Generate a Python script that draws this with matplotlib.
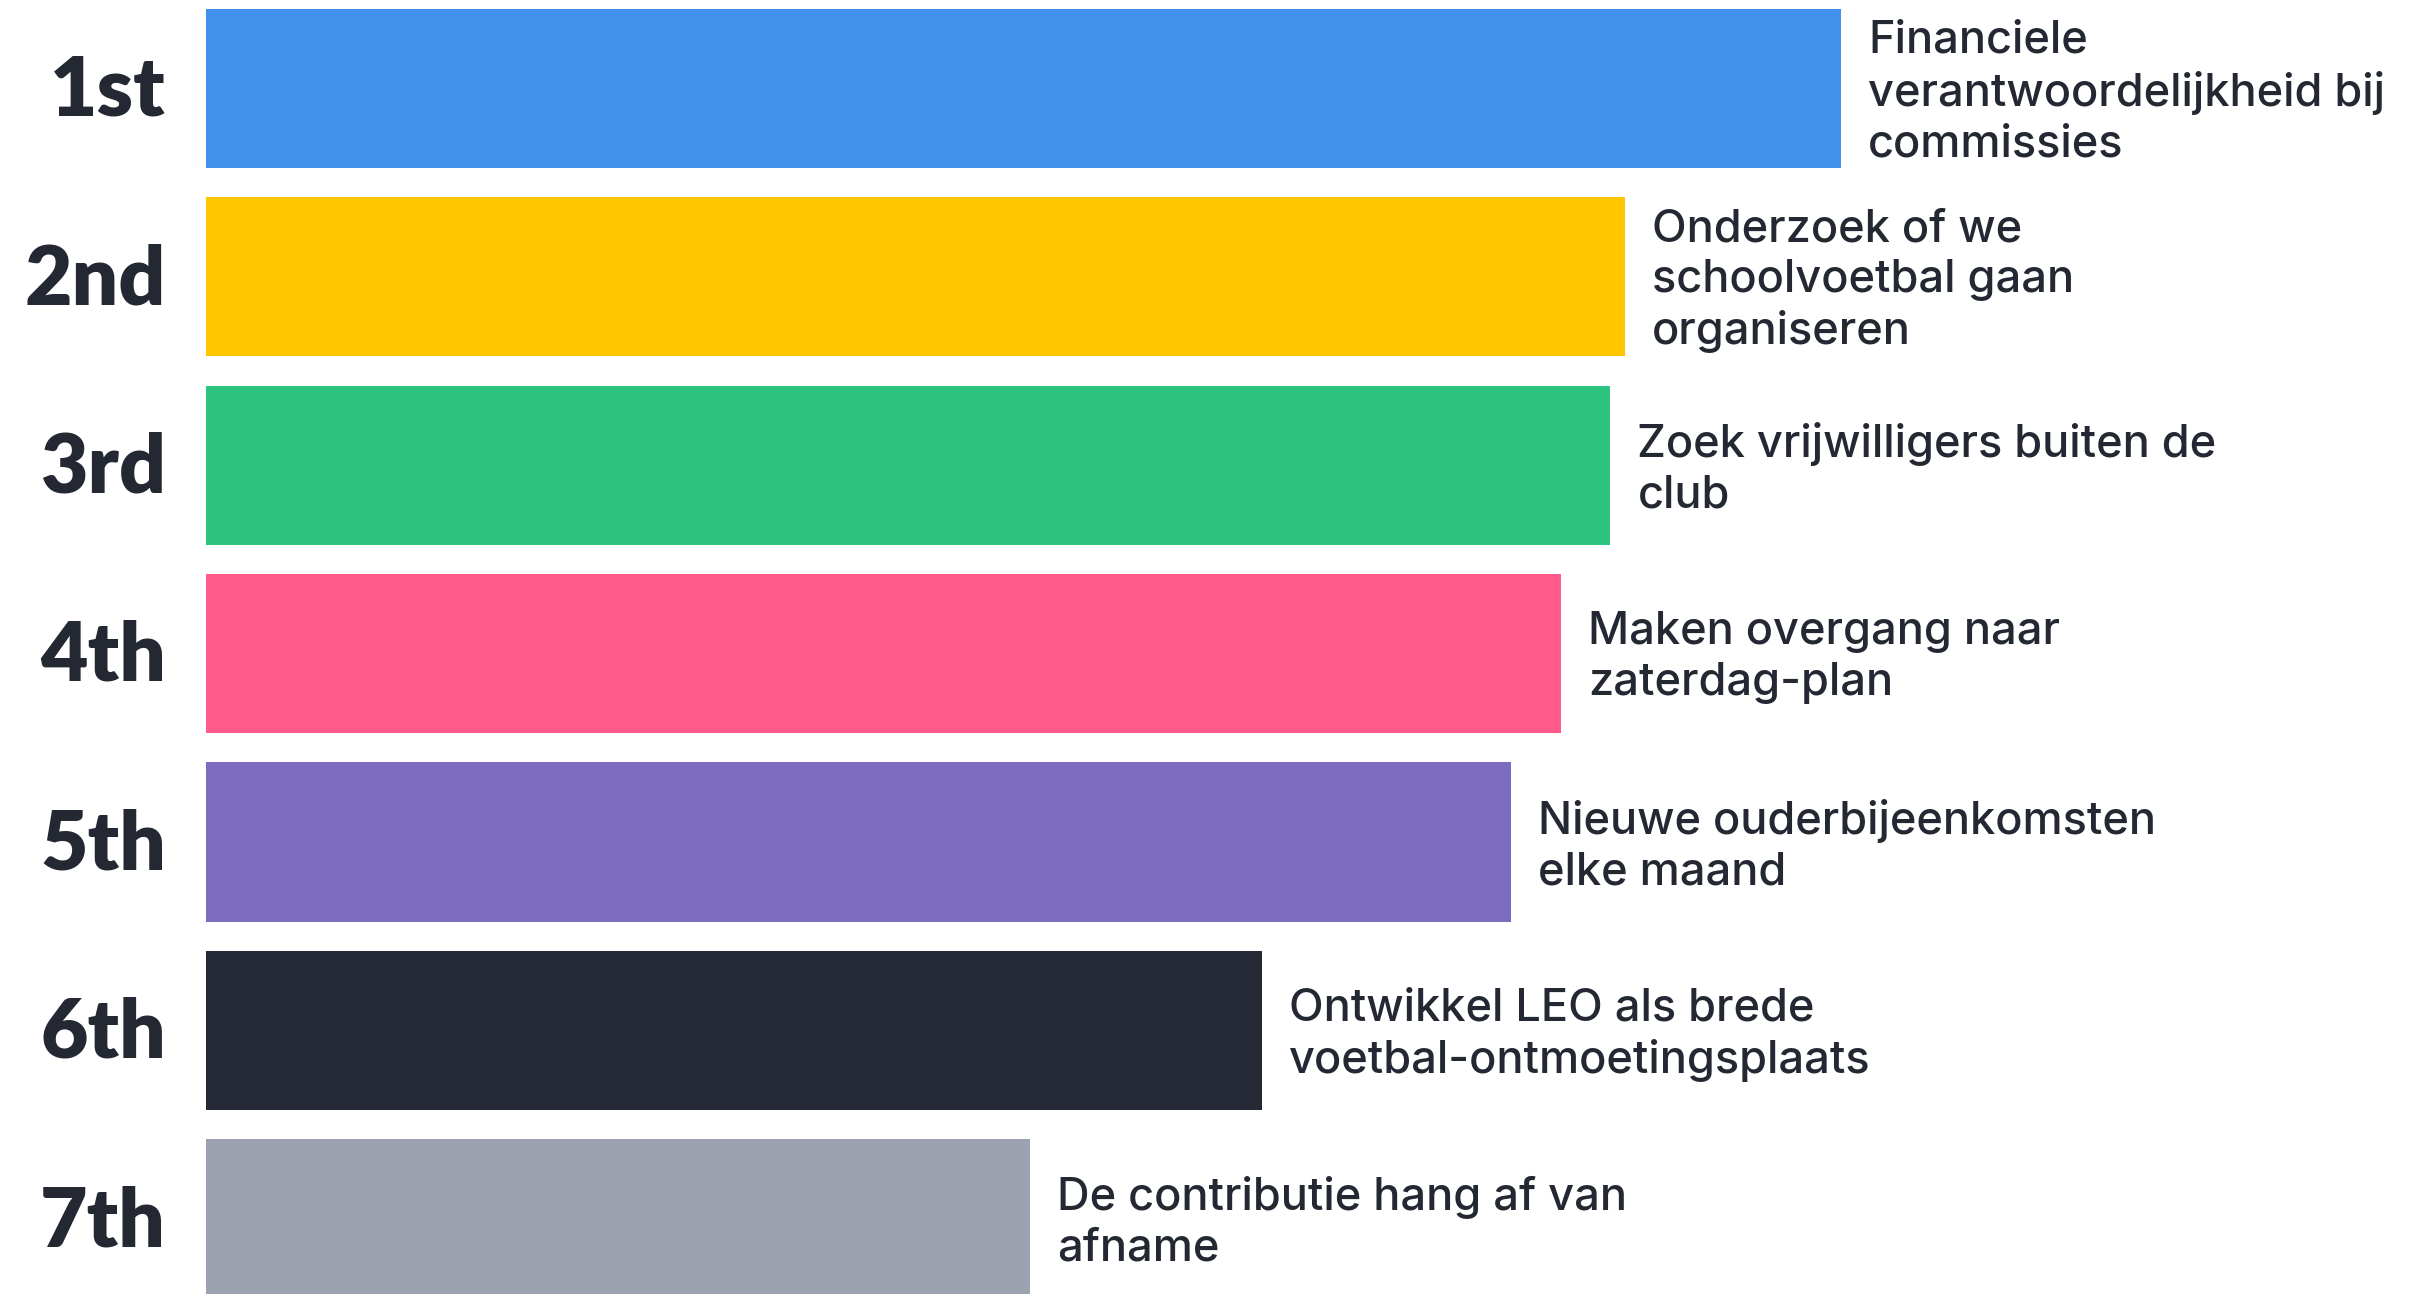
import matplotlib
matplotlib.use("Agg")
import matplotlib.pyplot as plt

ranks = ["1st", "2nd", "3rd", "4th", "5th", "6th", "7th"]
labels = [
    "Financiele\nverantwoordelijkheid bij\ncommissies",
    "Onderzoek of we\nschoolvoetbal gaan\norganiseren",
    "Zoek vrijwilligers buiten de\nclub",
    "Maken overgang naar\nzaterdag-plan",
    "Nieuwe ouderbijeenkomsten\nelke maand",
    "Ontwikkel LEO als brede\nvoetbal-ontmoetingsplaats",
    "De contributie hang af van\nafname",
]
scores = [100, 86.8, 85.9, 82.9, 79.8, 64.6, 50.4]
colors = ["#4292ED", "#FFC600", "#2BC37E", "#FF5A8A", "#7D6BBF", "#252A36", "#9CA2B0"]

W, H = 2411, 1294
fig = plt.figure(figsize=(W / 100, H / 100), dpi=100)
fig.patch.set_facecolor("white")

x0, x100 = 206, 1841
ax = fig.add_axes([x0 / W, 0, (x100 - x0) / W, 1])
ax.set_xlim(0, 100)
pitch = 188.4
ax.set_ylim((H - 88.4) / pitch, -88.4 / pitch)
ax.axis("off")

ypos = list(range(len(ranks)))
ax.barh(ypos, scores, height=0.845, color=colors)

txt_col = "#232833"
for y, r, lab, s in zip(ypos, ranks, labels, scores):
    ax.text(-2.45, y + 0.02, r, ha="right", va="center", fontsize=59, fontweight="heavy",
            family="Lato", color=txt_col, clip_on=False)
    ax.text(s + 1.65, y + 0.022, lab, ha="left", va="center", fontsize=32.5, family="Inter",
            fontweight="medium", color=txt_col, linespacing=1.27, clip_on=False)

fig.savefig("out.png", dpi=100, facecolor="white")
